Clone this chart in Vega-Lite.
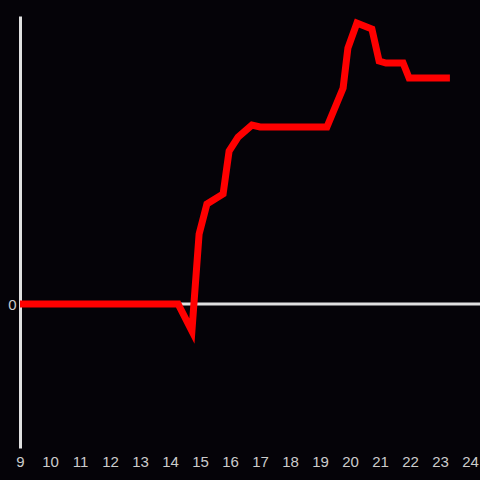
{
  "$schema": "https://vega.github.io/schema/vega-lite/v6.json",
  "width": 460,
  "height": 432,
  "autosize": {"type": "none"},
  "padding": {"left": 20, "top": 16, "right": 0, "bottom": 32},
  "background": "#050308",
  "config": {"view": {"stroke": null}, "font": "Liberation Sans"},
  "layer": [
    {
      "data": {"values": [{"y": 0}]},
      "mark": {"type": "rule", "color": "#e0e0e0", "strokeWidth": 3},
      "encoding": {
        "y": {"field": "y", "type": "quantitative", "scale": {"domain": [-1.44, 2.88]}}
      }
    },
    {
      "data": {"values": [
        {"x": 9, "y": 0},
        {"x": 14.27, "y": 0},
        {"x": 14.73, "y": -0.27},
        {"x": 14.97, "y": 0.70},
        {"x": 15.23, "y": 1.00},
        {"x": 15.77, "y": 1.10},
        {"x": 15.97, "y": 1.53},
        {"x": 16.27, "y": 1.67},
        {"x": 16.73, "y": 1.79},
        {"x": 17.0, "y": 1.77},
        {"x": 19.23, "y": 1.77},
        {"x": 19.77, "y": 2.16},
        {"x": 19.93, "y": 2.56},
        {"x": 20.23, "y": 2.81},
        {"x": 20.73, "y": 2.75},
        {"x": 20.97, "y": 2.43},
        {"x": 21.2, "y": 2.41},
        {"x": 21.77, "y": 2.41},
        {"x": 21.97, "y": 2.26},
        {"x": 23.33, "y": 2.26}
      ]},
      "mark": {"type": "line", "color": "#ff0000", "strokeWidth": 7, "strokeJoin": "miter"},
      "encoding": {
        "x": {
          "field": "x", "type": "quantitative",
          "scale": {"domain": [9, 24.3333], "nice": false, "zero": false},
          "axis": {
            "title": null, "domain": false, "ticks": false, "grid": false,
            "values": [9,10,11,12,13,14,15,16,17,18,19,20,21,22,23,24],
            "labelColor": "#cccccc", "labelFontSize": 15, "labelPadding": 6,
            "labelFlush": false
          }
        },
        "y": {
          "field": "y", "type": "quantitative",
          "scale": {"domain": [-1.44, 2.88], "nice": false, "zero": false},
          "axis": {
            "title": null, "domain": true, "domainColor": "#e0e0e0", "domainWidth": 3,
            "ticks": false, "grid": false, "values": [0], "format": "d",
            "labelColor": "#cccccc", "labelFontSize": 15, "labelPadding": 4
          }
        }
      }
    }
  ]
}
